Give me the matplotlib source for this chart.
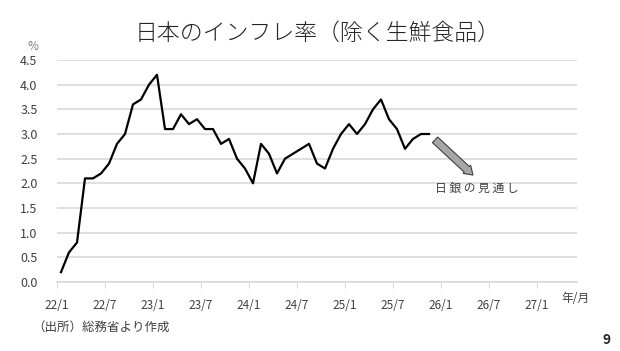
import matplotlib.pyplot as plt

plt.rcParams['font.family'] = ['Noto Sans CJK JP', 'DejaVu Sans']

# core CPI (ex fresh food), y/y %, Jan 2022 - Nov 2025
cpi = [0.2, 0.6, 0.8, 2.1, 2.1, 2.2, 2.4, 2.8, 3.0, 3.6, 3.7, 4.0,
       4.2, 3.1, 3.1, 3.4, 3.2, 3.3, 3.1, 3.1, 2.8, 2.9, 2.5, 2.3,
       2.0, 2.8, 2.6, 2.2, 2.5, 2.6, 2.7, 2.8, 2.4, 2.3, 2.7, 3.0,
       3.2, 3.0, 3.2, 3.5, 3.7, 3.3, 3.1, 2.7, 2.9, 3.0, 3.0]
tick_labels = ['22/1', '22/7', '23/1', '23/7', '24/1', '24/7',
               '25/1', '25/7', '26/1', '26/7', '27/1']
yticks = [0.0, 0.5, 1.0, 1.5, 2.0, 2.5, 3.0, 3.5, 4.0, 4.5]

fig = plt.figure(figsize=(6.2, 3.51), dpi=100)
ax = fig.add_axes([57 / 620, 1 - 282 / 351, 520 / 620, 222 / 351])

months = [i + 0.5 for i in range(len(cpi))]
ax.plot(months, cpi, color='black', lw=1.6, zorder=3)

ax.set_xlim(0, 65)
ax.set_ylim(0, 4.5)
ax.set_yticks(yticks)
ax.set_yticklabels([f'{v:.1f}' for v in yticks])
ax.set_xticks([6 * i for i in range(len(tick_labels))])
ax.set_xticklabels(tick_labels)
ax.grid(axis='y', color='#d9d9d9', lw=1.2)
ax.set_axisbelow(True)
for s in ['top', 'right', 'left']:
    ax.spines[s].set_visible(False)
ax.spines['bottom'].set_color('#d9d9d9')
ax.spines['bottom'].set_linewidth(1.2)
ax.tick_params(axis='y', length=0, labelsize=9, labelcolor='#404040', pad=14)
ax.tick_params(axis='x', length=4, color='#d9d9d9', labelsize=8.5,
               labelcolor='#404040', pad=8)

# forecast arrow
ax.annotate('', xy=(52.25, 2.13), xytext=(47.0, 2.92),
            arrowprops=dict(arrowstyle='simple,head_length=0.6,head_width=0.8,tail_width=0.55',
                            fc='#a6a6a6', ec='#404040', lw=0.8))
ax.text(52.5, 1.89, '日 銀 の 見 通 し', ha='center', va='center', fontsize=8.5,
        color='#404040')

fig.text(0.512, 1 - 33 / 351, '日本のインフレ率（除く生鮮食品）', ha='center',
         va='center', fontsize=16.5, fontweight='light', color='#262626')
fig.text(33 / 620, 1 - 47 / 351, '%', ha='center', va='center', fontsize=8.5,
         color='#7f7f7f')
fig.text(576 / 620, 1 - 299 / 351, '年/月', ha='center', va='center',
         fontsize=8.5, color='#404040')
fig.text(32 / 620, 1 - 327 / 351, '（出所）総務省より作成', ha='left',
         va='center', fontsize=9, color='#404040')
fig.text(607 / 620, 1 - 340 / 351, '9', ha='center', va='center',
         fontsize=10, fontweight='bold', color='#262626')

fig.savefig('out.png', dpi=100)
